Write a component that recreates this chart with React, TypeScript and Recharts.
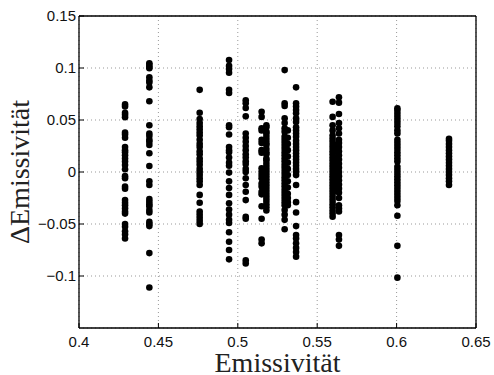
import React from 'react';
import {
  ScatterChart,
  Scatter,
  XAxis,
  YAxis,
  CartesianGrid,
  Label,
} from 'recharts';

const X_TICKS = [0.4, 0.45, 0.5, 0.55, 0.6, 0.65];
const Y_TICKS = [-0.1, -0.05, 0, 0.05, 0.1, 0.15];

// emissivity classes (x) and the deviations measured for each (y)
const COLUMN_X = [0.429, 0.4443, 0.476, 0.4945, 0.505, 0.515, 0.518, 0.5295, 0.5315, 0.5367, 0.5597, 0.5617, 0.5637, 0.6005, 0.633];

const colA = [0.065, 0.063, 0.057, 0.055, 0.0526, 0.038, 0.036, 0.033, 0.024, 0.021, 0.019, 0.016, 0.013, 0.01, 0.0067, 0.0026, -0.004, -0.006, -0.014, -0.016, -0.027, -0.0295, -0.032, -0.035, -0.038, -0.04, -0.05, -0.0526, -0.057, -0.06, -0.064];
const colB = [0.1045, 0.103, 0.101, 0.0997, 0.091, 0.088, 0.086, 0.0814, 0.068, 0.045, 0.037, 0.0346, 0.031, 0.029, 0.026, 0.018, 0.0058, -0.009, -0.0125, -0.026, -0.0285, -0.031, -0.033, -0.0365, -0.039, -0.048, -0.05, -0.052, -0.078, -0.111];
const colC = [0.079, 0.057, 0.051, 0.047, 0.044, 0.041, 0.038, 0.035, 0.031, 0.027, 0.024, 0.02, 0.017, 0.013, 0.01, 0.007, 0.003, 0, -0.003, -0.006, -0.009, -0.0125, -0.022, -0.0295, -0.038, -0.041, -0.044, -0.047, -0.05];
const colD = [0.1077, 0.102, 0.099, 0.0955, 0.079, 0.076, 0.045, 0.043, 0.036, 0.024, 0.021, 0.019, 0.014, 0.009, 0.006, -0.0006, -0.009, -0.0154, -0.022, -0.03, -0.036, -0.041, -0.046, -0.049, -0.058, -0.067, -0.075, -0.084];
const colE = [0.069, 0.066, 0.0615, 0.0535, 0.037, 0.033, 0.029, 0.025, 0.021, 0.017, 0.014, 0.0103, 0.0077, 0.003, 0, -0.006, -0.0125, -0.019, -0.027, -0.043, -0.045, -0.085, -0.088];
const colF1 = [0.058, 0.053, 0.042, 0.04, 0.031, 0.028, 0.021, 0.0186, 0.0035, 0.0003, -0.003, -0.006, -0.011, -0.014, -0.019, -0.0215, -0.033, -0.045, -0.065, -0.0686];
const colF2 = [0.045, 0.043, 0.039, 0.037, 0.034, 0.031, 0.028, 0.026, 0.022, 0.019, 0.017, 0.013, 0.011, 0.008, 0.005, 0.002, -0.001, -0.004, -0.007, -0.01, -0.013, -0.016, -0.019, -0.022, -0.025, -0.028, -0.031, -0.034, -0.037];
const colG1 = [0.098, 0.066, 0.0635, 0.0516, 0.047, 0.042, 0.0388, 0.034, 0.031, 0.028, 0.025, 0.022, 0.019, 0.016, 0.013, 0.01, 0.007, 0.004, 0.001, -0.002, -0.005, -0.008, -0.011, -0.014, -0.017, -0.02, -0.023, -0.026, -0.029, -0.032, -0.0365, -0.041, -0.046, -0.055];
const colG1b = [0.04, 0.033, 0.027, 0.021, 0.015, 0.009, 0.003, -0.003, -0.009, -0.015, -0.021, -0.025, -0.029, -0.032];
const colG2 = [0.0814, 0.066, 0.063, 0.0596, 0.0564, 0.0516, 0.048, 0.043, 0.04, 0.037, 0.034, 0.03, 0.027, 0.024, 0.021, 0.018, 0.015, 0.012, 0.009, 0.006, 0.003, 0.0003, -0.003, -0.0125, -0.029, -0.039, -0.052, -0.0606, -0.064, -0.0686, -0.073, -0.077, -0.0814];
const colH1 = [0.0676, 0.053, 0.045, 0.04, 0.035, 0.032, 0.029, 0.026, 0.023, 0.02, 0.017, 0.014, 0.011, 0.008, 0.005, 0.002, -0.001, -0.004, -0.007, -0.01, -0.013, -0.016, -0.019, -0.022, -0.025, -0.028, -0.031, -0.034, -0.037, -0.04, -0.043];
const colH1b = [0.026, 0.02, 0.014, 0.009, 0.004, -0.002, -0.008, -0.013, -0.018];
const colH2 = [0.0718, 0.0667, 0.0558, 0.047, 0.042, 0.037, 0.031, 0.028, 0.024, 0.02, 0.016, 0.012, 0.008, 0.004, 0, -0.004, -0.008, -0.012, -0.016, -0.02, -0.025, -0.032, -0.035, -0.038, -0.0606, -0.065, -0.071];
const colI = [0.0612, 0.059, 0.056, 0.053, 0.05, 0.047, 0.044, 0.04, 0.037, 0.031, 0.028, 0.025, 0.022, 0.019, 0.016, 0.013, 0.01, 0.005, 0.002, -0.001, -0.004, -0.007, -0.01, -0.013, -0.016, -0.019, -0.022, -0.025, -0.028, -0.032, -0.042, -0.071, -0.1016];
const colJ = [0.032, 0.03, 0.027, 0.024, 0.021, 0.018, 0.015, 0.012, 0.009, 0.006, 0.003, 0, -0.003, -0.006, -0.009, -0.0125];

const COLUMN_Y = [colA, colB, colC, colD, colE, colF1, colF2, colG1, colG1b, colG2, colH1, colH1b, colH2, colI, colJ];

const points = COLUMN_X.flatMap((x, i) => COLUMN_Y[i].map(y => ({ x, y })));

const fmt = (v: number) => String(v).replace('-', '\u2212');

const tickStyle = { fontSize: 15, fill: '#111', fontFamily: '"Liberation Sans", Arial, sans-serif' };
const titleStyle = { fontSize: 28, fill: '#222', fontFamily: '"Liberation Serif", "Times New Roman", serif' };

const XTitle = ({ viewBox }: any) => (
  <text x={viewBox.x + viewBox.width / 2} y={viewBox.y + 43.5} textAnchor="middle" style={titleStyle}>
    Emissivität
  </text>
);

const YTitle = ({ viewBox }: any) => {
  const cx = 29;
  const cy = viewBox.y + viewBox.height / 2;
  return (
    <text x={cx} y={cy} transform={`rotate(-90, ${cx}, ${cy})`} textAnchor="middle" style={titleStyle}>
      ΔEmissivität
    </text>
  );
};

const Dot = (p: any) => <circle cx={p.cx} cy={p.cy} r={3.3} fill="#000" />;

export default function App() {
  return (
    <div style={{ position: 'absolute', left: 0, top: 0, width: 494, height: 375, background: '#fff' }}>
      <ScatterChart width={494} height={375} margin={{ top: 15, right: 17, bottom: 0, left: 0 }}>
        <CartesianGrid stroke="#999" strokeDasharray="1 3" ticks={undefined} />
        <XAxis
          type="number"
          dataKey="x"
          domain={[0.4, 0.65]}
          ticks={X_TICKS}
          allowDataOverflow
          height={47}
          tickSize={-5}
          tickMargin={13}
          tickFormatter={fmt}
          tick={tickStyle}
          axisLine={{ stroke: '#000', strokeWidth: 1.3 }}
          tickLine={{ stroke: '#000' }}
        >
          <Label content={XTitle} />
        </XAxis>
        <XAxis
          xAxisId="top"
          orientation="top"
          type="number"
          domain={[0.4, 0.65]}
          ticks={X_TICKS}
          allowDataOverflow
          height={1}
          tickSize={-5}
          tick={false}
          axisLine={{ stroke: '#000', strokeWidth: 1.3 }}
          tickLine={{ stroke: '#000' }}
        />
        <YAxis
          type="number"
          dataKey="y"
          domain={[-0.15, 0.15]}
          ticks={Y_TICKS}
          allowDataOverflow
          width={79}
          tickSize={-5}
          tickMargin={8}
          tickFormatter={fmt}
          tick={tickStyle}
          axisLine={{ stroke: '#000', strokeWidth: 1.3 }}
          tickLine={{ stroke: '#000' }}
        >
          <Label content={YTitle} />
        </YAxis>
        <YAxis
          yAxisId="right"
          orientation="right"
          type="number"
          domain={[-0.15, 0.15]}
          ticks={Y_TICKS}
          allowDataOverflow
          width={1}
          tickSize={-5}
          tick={false}
          axisLine={{ stroke: '#000', strokeWidth: 1.3 }}
          tickLine={{ stroke: '#000' }}
        />
        <Scatter data={points} shape={Dot} isAnimationActive={false} />
      </ScatterChart>
    </div>
  );
}
